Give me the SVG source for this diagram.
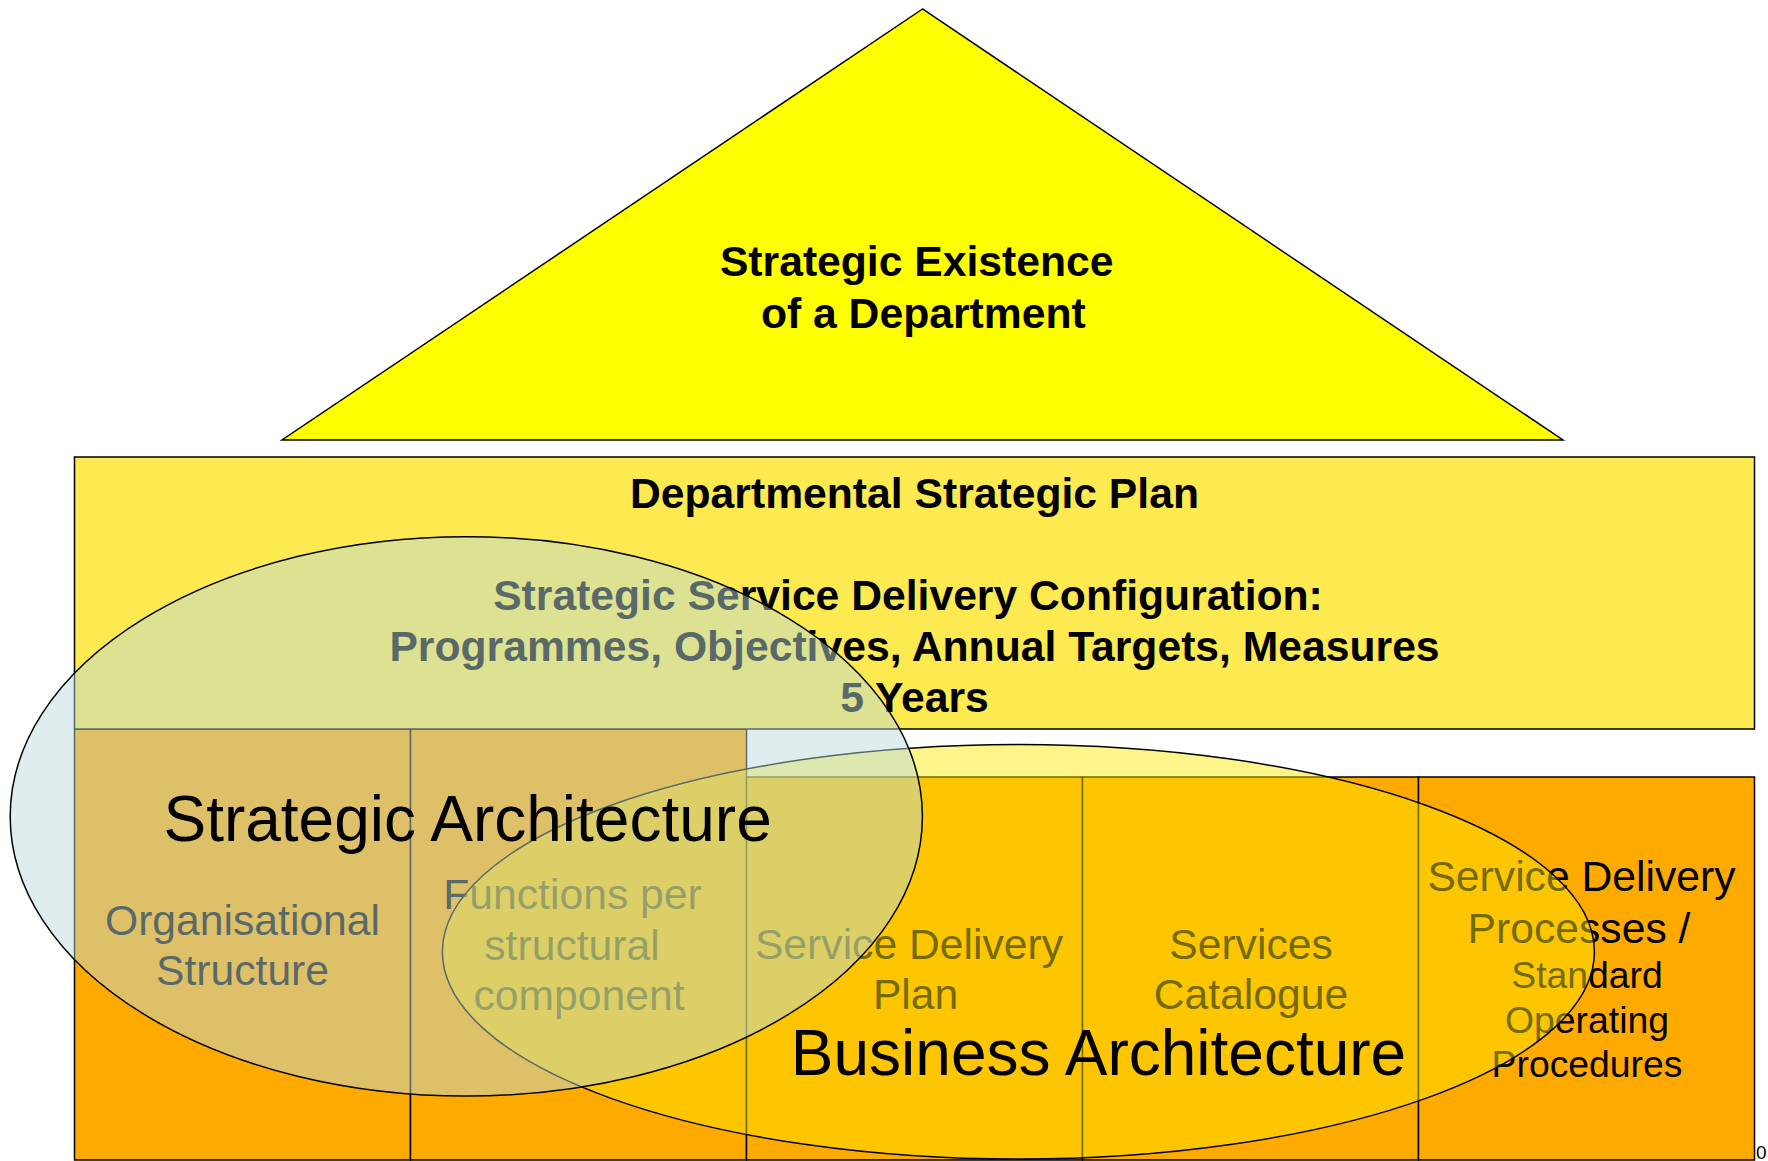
<svg xmlns="http://www.w3.org/2000/svg" width="1768" height="1161" viewBox="0 0 1768 1161">
<style>
text{font-family:"Liberation Sans",Arial,sans-serif;fill:#000;text-anchor:middle}
.b{font-weight:bold;font-size:42.67px}
.r{font-size:42.67px}
.s{font-size:37.33px}
.big{font-size:64px}
.box{fill:#FFAA00;stroke:#000;stroke-width:1.5}
</style>
<rect width="1768" height="1161" fill="#fff"/>
<g id="strategic-existence">
<polygon points="922.5,9 282,440 1563,440" fill="#FFFF00" stroke="#000" stroke-width="1.5"/>
<text class="b" x="916.7" y="276">Strategic Existence</text>
<text class="b" x="923.3" y="327.5">of a Department</text>
</g>
<g id="organisational-structure">
<rect class="box" x="74.5" y="729" width="336" height="431"/>
<text class="r" x="242.5" y="935">Organisational</text>
<text class="r" x="242.5" y="985">Structure</text>
</g>
<g id="functions">
<rect class="box" x="410.5" y="729" width="336" height="431"/>
<text class="r" x="572.5" y="909">Functions per</text>
<text class="r" x="572" y="960">structural</text>
<text class="r" x="579" y="1010">component</text>
</g>
<g id="service-delivery-plan">
<rect class="box" x="746.5" y="777" width="336" height="383"/>
<text class="r" x="909" y="959">Service Delivery</text>
<text class="r" x="915.6" y="1009">Plan</text>
</g>
<g id="services-catalogue">
<rect class="box" x="1082.5" y="777" width="336" height="383"/>
<text class="r" x="1251" y="959">Services</text>
<text class="r" x="1251" y="1009">Catalogue</text>
</g>
<g id="service-delivery-processes">
<rect class="box" x="1418.5" y="777" width="336" height="383"/>
<text class="r" x="1581.5" y="891">Service Delivery</text>
<text class="r" x="1579" y="943">Processes /</text>
<text class="s" x="1587" y="988">Standard</text>
<text class="s" x="1587" y="1033">Operating</text>
<text class="s" x="1587" y="1077">Procedures</text>
</g>
<g id="departmental-strategic-plan">
<rect x="74.5" y="457" width="1680" height="272" fill="#FCEA50" stroke="#000" stroke-width="1.5"/>
<text class="b" x="914.5" y="508">Departmental Strategic Plan</text>
<text class="b" x="908" y="610">Strategic Service Delivery Configuration:</text>
<text class="b" x="914.5" y="661">Programmes, Objectives, Annual Targets, Measures</text>
<text class="b" x="914.5" y="712">5 Years</text>
</g>
<g id="business-architecture">
<ellipse cx="1018.4" cy="951.8" rx="576" ry="207.3" fill="rgb(250,231,0)" fill-opacity="0.46" stroke="#000" stroke-width="1.5"/>
<text class="big" x="1098.5" y="1075">Business Architecture</text>
</g>
<g id="strategic-architecture">
<ellipse cx="466.3" cy="816.4" rx="456.1" ry="279.7" fill="rgb(187,217,217)" fill-opacity="0.48" stroke="#000" stroke-width="1.5"/>
<text class="big" x="467.6" y="840.7">Strategic Architecture</text>
</g>
<g id="connectors"/>
<text x="1756" y="1159" style="font-size:19px;text-anchor:start">0</text>
</svg>
